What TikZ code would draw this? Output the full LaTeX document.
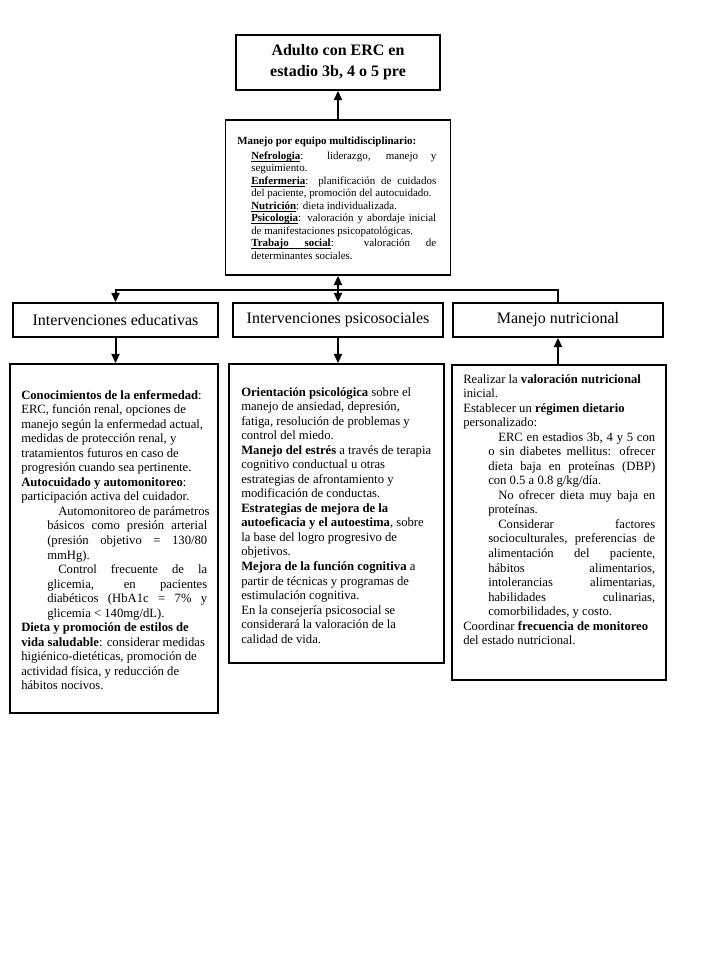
\documentclass[tikz,border=0pt]{standalone}
\usepackage{fontspec}
\setmainfont{Liberation Serif}
\usetikzlibrary{arrows.meta,positioning}

\newcommand{\pxu}{0.75pt}
% justified paragraph: left margin, first-line indent, right margin
\newcommand{\justpar}[4]{\par{\leftskip=#1\rightskip=#3 minus 6pt\parfillskip=0pt plus 1fil\spaceskip=0pt\xspaceskip=0pt\lineskiplimit=-20pt\tolerance=10000\hbadness=10000\relax\noindent\hspace*{#2}#4\par}}
\newcommand{\ulterm}[1]{{\setbox0\hbox{\textbf{#1}}\rlap{\rule[-1.5pt]{\wd0}{0.45pt}}\box0}}
\newcommand{\ulgap}{\leaders\hrule height -1.05pt depth 1.5pt\hskip 0.25em plus 0.125em minus 0.08em\relax}
\newcommand{\nohyph}{\hyphenpenalty=10000\spaceskip=0pt\xspaceskip=0pt\relax}

\tikzset{
  framebox/.style={draw,line width=1.2pt,inner sep=0pt},
  titlebox/.style={framebox,align=center,font=\fontsize{12}{15.75}\selectfont\bfseries},
  headbox/.style={framebox,font=\fontsize{12}{14}\selectfont},
  bodytext/.style={anchor=north west,inner sep=0pt,align=flush left,execute at begin node=\nohyph}
}
\tikzset{flow/.style={-{Triangle[length=7pt,width=6pt]},line width=1.5pt}}

\begin{document}
\begin{tikzpicture}[x=0.75pt,y=-0.75pt]
  \path[fill=white] (0,0) rectangle (708,970);

  % Top: patient and team
  \node[titlebox,minimum width=204*\pxu,minimum height=55*\pxu] (adult) at (338,62.5) {Adulto con ERC en\\estadio 3b, 4 o 5 pre};
  \node[framebox,minimum width=225*\pxu,minimum height=155*\pxu] (team) at (338,197.5) {};
  \node[bodytext,text width=149.25pt,font=\fontsize{8.2}{9.35}\selectfont] (teamtext) at (237,137) {%
    \textbf{Manejo por equipo multidisciplinario:}\par\vspace{1.5pt}
    \justpar{10.5pt}{0pt}{0pt}{\ulterm{Nefrologia}: liderazgo, manejo y\linebreak seguimiento.}
    \justpar{10.5pt}{0pt}{0pt}{\ulterm{Enfermeria}: planificación de cuidados\linebreak del paciente, promoción del autocuidado.}
    \justpar{10.5pt}{0pt}{0pt}{\ulterm{Nutrición}: dieta individualizada.}
    \justpar{10.5pt}{0pt}{0pt}{\ulterm{Psicologia}: valoración y abordaje inicial\linebreak de manifestaciones psicopatológicas.}
    \justpar{10.5pt}{0pt}{0pt}{\ulterm{Trabajo}\ulgap\ulterm{social}: valoración de\linebreak determinantes sociales.}};

  % Middle row: intervention headers
  \node[headbox,minimum width=205*\pxu,minimum height=34*\pxu] (eduhead) at (115.5,320) {Intervenciones educativas};
  \node[headbox,minimum width=210*\pxu,minimum height=34*\pxu] (psyhead) at (338,320) {Intervenciones psicosociales};
  \node[headbox,minimum width=210*\pxu,minimum height=34*\pxu] (nuthead) at (558,320) {Manejo nutricional};

  % Bottom row: detail boxes
  \node[framebox,minimum width=208*\pxu,minimum height=349*\pxu] (edubox) at (114,538.5) {};
  \node[framebox,minimum width=215*\pxu,minimum height=299*\pxu] (psybox) at (336.5,513.5) {};
  \node[framebox,minimum width=214*\pxu,minimum height=315*\pxu] (nutbox) at (559,522.5) {};

  \node[bodytext,text width=147.5pt,font=\fontsize{9.5}{10.9}\selectfont] (edutext) at (21,390) {%
    \textbf{Conocimientos de la enfermedad}:\\
    ERC, función renal, opciones de\\
    manejo según la enfermedad actual,\\
    medidas de protección renal, y\\
    tratamientos futuros en caso de\\
    progresión cuando sea pertinente.\\
    \textbf{Autocuidado y automonitoreo}:\\
    participación activa del cuidador.
    \justpar{19.5pt}{8.25pt}{8pt}{Automonitoreo de parámetros\linebreak básicos como presión arterial\linebreak (presión objetivo = 130/80\linebreak mmHg).}
    \justpar{19.5pt}{8.25pt}{8pt}{Control frecuente de la\linebreak glicemia, en pacientes\linebreak diabéticos (HbA1c = 7\% y\linebreak glicemia < 140mg/dL).}
    \textbf{Dieta y promoción de estilos de}\\
    \textbf{vida saludable}: considerar medidas\\
    higiénico-dietéticas, promoción de\\
    actividad física, y reducción de\\
    hábitos nocivos.};

  \node[bodytext,text width=154pt,font=\fontsize{9.5}{10.9}\selectfont] (psytext) at (241,387) {%
    \textbf{Orientación psicológica} sobre el\\
    manejo de ansiedad, depresión,\\
    fatiga, resolución de problemas y\\
    control del miedo.\\
    \textbf{Manejo del estrés} a través de terapia\\
    cognitivo conductual u otras\\
    estrategias de afrontamiento y\\
    modificación de conductas.\\
    \textbf{Estrategias de mejora de la}\\
    \textbf{autoeficacia y el autoestima}, sobre\\
    la base del logro progresivo de\\
    objetivos.\\
    \textbf{Mejora de la función cognitiva} a\\
    partir de técnicas y programas de\\
    estimulación cognitiva.\\
    En la consejería psicosocial se\\
    considerará la valoración de la\\
    calidad de vida.};

  \node[bodytext,text width=152pt,font=\fontsize{9.5}{10.9}\selectfont] (nuttext) at (463,374) {%
    Realizar la \textbf{valoración nutricional}\\
    inicial.\\
    Establecer un \textbf{régimen dietario}\\
    personalizado:
    \justpar{18.75pt}{7.5pt}{8pt}{ERC en estadios 3b, 4 y 5 con\linebreak o sin diabetes mellitus: ofrecer\linebreak dieta baja en proteínas (DBP)\linebreak con 0.5 a 0.8 g/kg/día.}
    \justpar{18.75pt}{7.5pt}{8pt}{No ofrecer dieta muy baja en\linebreak proteínas.}
    \justpar{18.75pt}{7.5pt}{8pt}{Considerar factores\linebreak socioculturales, preferencias de\linebreak alimentación del paciente,\linebreak hábitos alimentarios,\linebreak intolerancias alimentarias,\linebreak habilidades culinarias,\linebreak comorbilidades, y costo.}
    Coordinar \textbf{frecuencia de monitoreo}\\
    del estado nutricional.};

  % Connectors
  \coordinate (split) at (338,290);
  \draw[flow] (team.north) -- (adult.south);
  \draw[flow] (split) -- (team.south);
  \draw[flow] (split) -- (psyhead.north);
  \draw[flow] (nuthead.north) |- (split) -| (eduhead.north);
  \draw[flow] (eduhead.south) -- (eduhead.south |- edubox.north);
  \draw[flow] (psyhead.south) -- (psyhead.south |- psybox.north);
  \draw[flow] (nuthead.south |- nutbox.north) -- (nuthead.south);
\end{tikzpicture}
\end{document}
